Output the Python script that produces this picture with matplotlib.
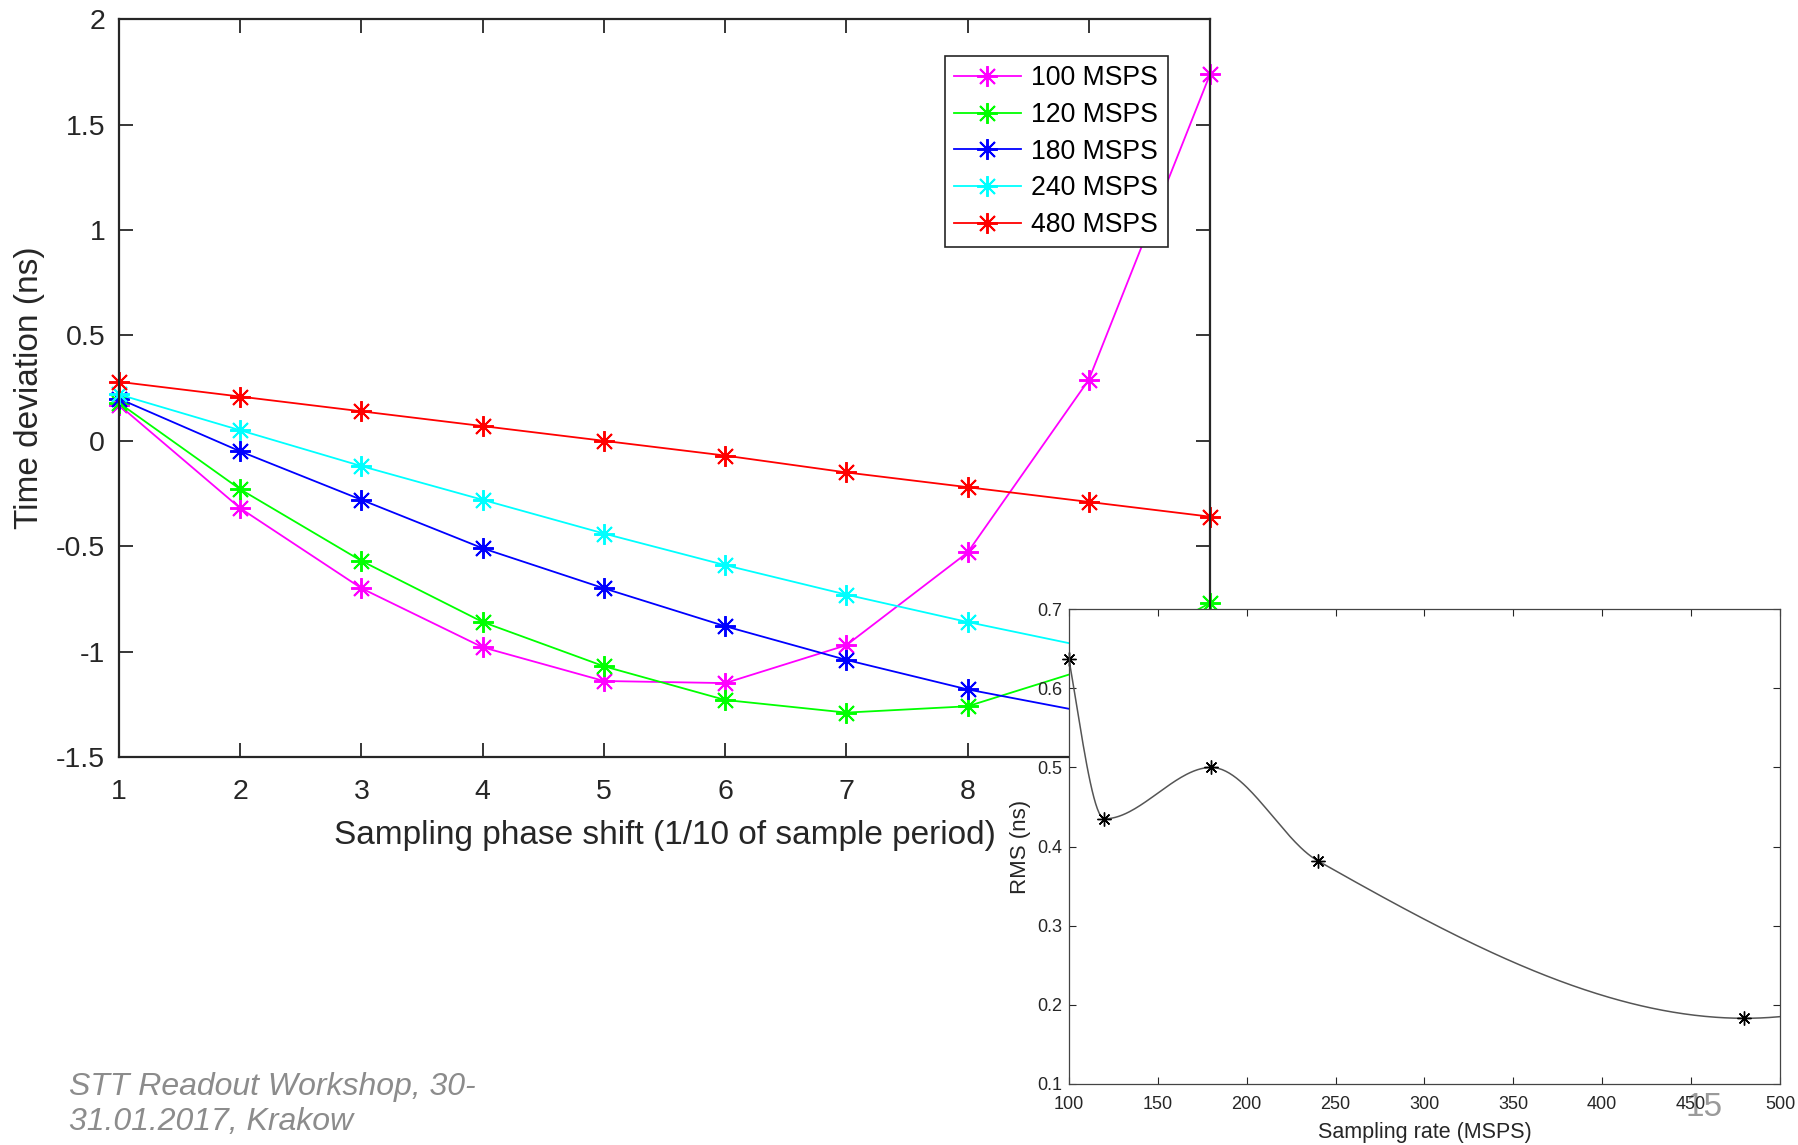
import numpy as np
import matplotlib
matplotlib.use("Agg")
import matplotlib.pyplot as plt

plt.rcParams['font.family'] = ['Liberation Sans', 'DejaVu Sans']
plt.rcParams['axes.unicode_minus'] = False

# Time deviation vs. sampling phase shift for several ADC sampling rates
phase_shift = [1, 2, 3, 4, 5, 6, 7, 8, 9, 10]
dev_100 = [0.17, -0.32, -0.70, -0.98, -1.14, -1.15, -0.97, -0.53, 0.29, 1.74]
dev_120 = [0.18, -0.23, -0.57, -0.86, -1.07, -1.23, -1.29, -1.26, -1.08, -0.77]
dev_180 = [0.20, -0.05, -0.28, -0.51, -0.70, -0.88, -1.04, -1.18, -1.29, -1.38]
dev_240 = [0.22, 0.05, -0.12, -0.28, -0.44, -0.59, -0.73, -0.86, -0.98, -1.09]
dev_480 = [0.28, 0.21, 0.14, 0.07, 0.00, -0.07, -0.15, -0.22, -0.29, -0.36]
series_labels = ['100 MSPS', '120 MSPS', '180 MSPS', '240 MSPS', '480 MSPS']
series_colors = ['#FF00FF', '#00FF00', '#0000FF', '#00FFFF', '#FF0000']

# RMS of the time deviation vs. sampling rate
rate = [100, 120, 180, 240, 480]
rms = [0.637, 0.435, 0.500, 0.382, 0.183]


def pchip(x, y, xq):
    """Shape-preserving piecewise cubic Hermite interpolant (Fritsch-Carlson)."""
    x = np.asarray(x, float)
    y = np.asarray(y, float)
    h = np.diff(x)
    delta = np.diff(y) / h
    n = len(x)
    d = np.zeros(n)
    for k in range(1, n - 1):
        if delta[k - 1] * delta[k] > 0:
            w1 = 2 * h[k] + h[k - 1]
            w2 = h[k] + 2 * h[k - 1]
            d[k] = (w1 + w2) / (w1 / delta[k - 1] + w2 / delta[k])

    def end_slope(h0, h1, d0, d1):
        s = ((2 * h0 + h1) * d0 - h0 * d1) / (h0 + h1)
        if np.sign(s) != np.sign(d0):
            s = 0.0
        elif np.sign(d0) != np.sign(d1) and abs(s) > abs(3 * d0):
            s = 3 * d0
        return s

    d[0] = end_slope(h[0], h[1], delta[0], delta[1])
    d[-1] = end_slope(h[-1], h[-2], delta[-1], delta[-2])
    idx = np.clip(np.searchsorted(x, xq, side='right') - 1, 0, n - 2)
    hk = h[idx]
    t = (xq - x[idx]) / hk
    h00 = 2 * t ** 3 - 3 * t ** 2 + 1
    h10 = t ** 3 - 2 * t ** 2 + t
    h01 = -2 * t ** 3 + 3 * t ** 2
    h11 = t ** 3 - t ** 2
    return (h00 * y[idx] + h10 * hk * d[idx] + h01 * y[idx + 1]
            + h11 * hk * d[idx + 1])


asterisk = (8, 2, 0)
dark = '#262626'

fig = plt.figure(figsize=(17.98, 11.45), dpi=100)

# Main panel
ax = fig.add_axes([0.0662, 0.339, 0.6068, 0.644])
for vals, lab, col in zip([dev_100, dev_120, dev_180, dev_240, dev_480],
                          series_labels, series_colors):
    ax.plot(phase_shift, vals, color=col, lw=1.3, marker=asterisk,
            markersize=15, markeredgewidth=1.4, label=lab, clip_on=False)
ax.set_xlim(1, 10)
ax.set_ylim(-1.5, 2)
ax.set_xticks(phase_shift)
ax.set_yticks([-1.5, -1, -0.5, 0, 0.5, 1, 1.5, 2])
ax.set_yticklabels(['-1.5', '-1', '-0.5', '0', '0.5', '1', '1.5', '2'])
ax.tick_params(direction='in', length=10, width=1.3, top=True, right=True,
               labelsize=20.5, colors=dark)
ax.tick_params(axis='x', pad=16)
ax.tick_params(axis='y', pad=10)
for s in ax.spines.values():
    s.set_linewidth(1.6)
    s.set_color(dark)
ax.set_xlabel('Sampling phase shift (1/10 of sample period)', fontsize=24,
              color=dark, labelpad=11)
ax.set_ylabel('Time deviation (ns)', fontsize=24, color=dark, labelpad=8)
leg = ax.legend(loc='upper right', bbox_to_anchor=(0.961, 0.9505),
                borderaxespad=0, fontsize=19.2, fancybox=False, framealpha=1,
                edgecolor=dark, handlelength=2.5, handletextpad=0.4,
                labelspacing=0.4, borderpad=0.35)
leg.get_frame().set_linewidth(1.2)

# Inset panel: RMS vs sampling rate
ins = fig.add_axes([0.5945, 0.0533, 0.3955, 0.4147])
ins.set_facecolor('white')
xs = np.linspace(100, 500, 400)
ins.plot(xs, pchip(rate, rms, xs), color='#555555', lw=1.1)
ins.plot(rate, rms, linestyle='none', marker=asterisk, markersize=10,
         markeredgewidth=1.0, color='black', clip_on=False)
ins.set_xlim(100, 500)
ins.set_ylim(0.1, 0.7)
ins.set_xticks(np.arange(100, 501, 50))
ins.set_yticks([0.1, 0.2, 0.3, 0.4, 0.5, 0.6, 0.7])
ins.tick_params(direction='in', length=5, width=0.8, top=True, right=True,
                labelsize=13, colors=dark, pad=5)
ins.tick_params(axis='x', pad=9)
for s in ins.spines.values():
    s.set_linewidth(0.9)
    s.set_color('#444444')
ins.set_xlabel('Sampling rate (MSPS)', fontsize=15.5, color=dark, labelpad=6)
ins.set_ylabel('RMS (ns)', fontsize=16, color=dark, labelpad=4)

# Slide footer and page number
fig.text(0.0384, 0.0638, 'STT Readout Workshop, 30-\n31.01.2017, Krakow',
         fontsize=23, style='italic', color='#8c8c8c', ha='left', va='top',
         linespacing=1.22)
fig.text(0.9475, 0.033, '15', fontsize=24, color='#9a9a9a', ha='center',
         va='center', zorder=-1)

fig.savefig('out.png', dpi=100)
